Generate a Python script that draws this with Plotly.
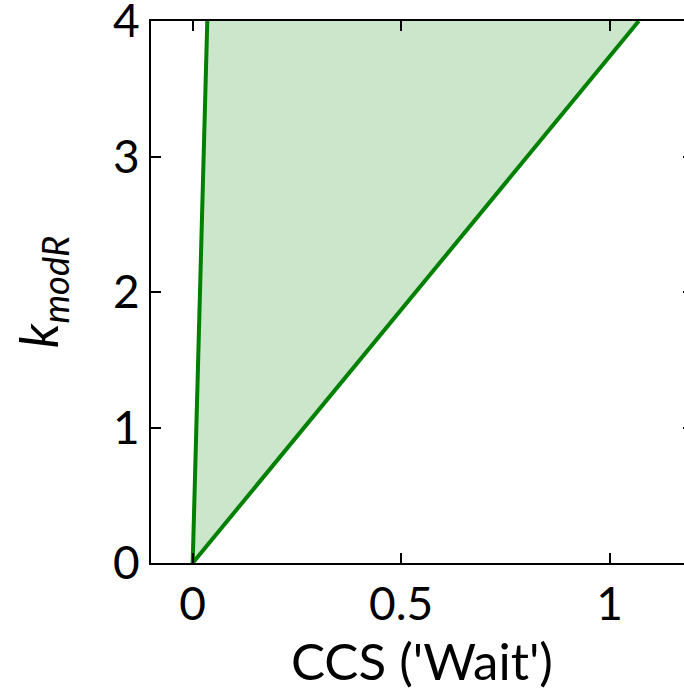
import plotly.graph_objects as go

# data
k_vals = [0, 4]
ccs_lower = [0, 0.035]   # left boundary (CCS at k=0, k=4)
ccs_upper = [0, 1.07]    # right boundary
x_ticks = [0, 0.5, 1]
x_ticklabels = ["0", "0.5", "1"]
y_ticks = [0, 1, 2, 3, 4]

green = "#008000"
font_family = "Lato, DejaVu Sans, sans-serif"

fig = go.Figure()
fig.add_trace(go.Scatter(
    x=ccs_lower + ccs_upper[::-1] + [ccs_lower[0]],
    y=k_vals + k_vals[::-1] + [k_vals[0]],
    fill="toself", fillcolor="rgba(0,128,0,0.2)",
    line=dict(width=0), mode="lines", hoverinfo="skip", showlegend=False))
fig.add_trace(go.Scatter(x=ccs_lower, y=k_vals, mode="lines",
                         line=dict(color=green, width=4), showlegend=False))
fig.add_trace(go.Scatter(x=ccs_upper, y=k_vals, mode="lines",
                         line=dict(color=green, width=4), showlegend=False))

axis_common = dict(showline=True, linecolor="black", linewidth=2, mirror="ticks",
                   ticks="inside", ticklen=10, tickwidth=2, tickcolor="black",
                   showgrid=False, zeroline=False, ticklabeloverflow="allow",
                   automargin=False,
                   tickfont=dict(size=46, color="black", family=font_family))

fig.update_xaxes(range=[-0.1, 1.2], tickvals=x_ticks, ticktext=x_ticklabels,
                 title=dict(text="CCS ('Wait')", font=dict(size=51, color="black", family=font_family),
                            standoff=0),
                 **axis_common)
fig.update_yaxes(range=[0, 4], tickvals=y_ticks,
                 title=dict(text="<i>k</i><sub><i>modR</i></sub>",
                            font=dict(size=52, color="black", family=font_family), standoff=38),
                 **axis_common)

fig.update_layout(width=694, height=693, autosize=False,
                  margin=dict(l=151, r=1, t=21, b=130),
                  plot_bgcolor="white", paper_bgcolor="white")

fig.write_html("out.html", post_script="document.body.style.overflow='hidden';document.documentElement.style.overflow='hidden';")
